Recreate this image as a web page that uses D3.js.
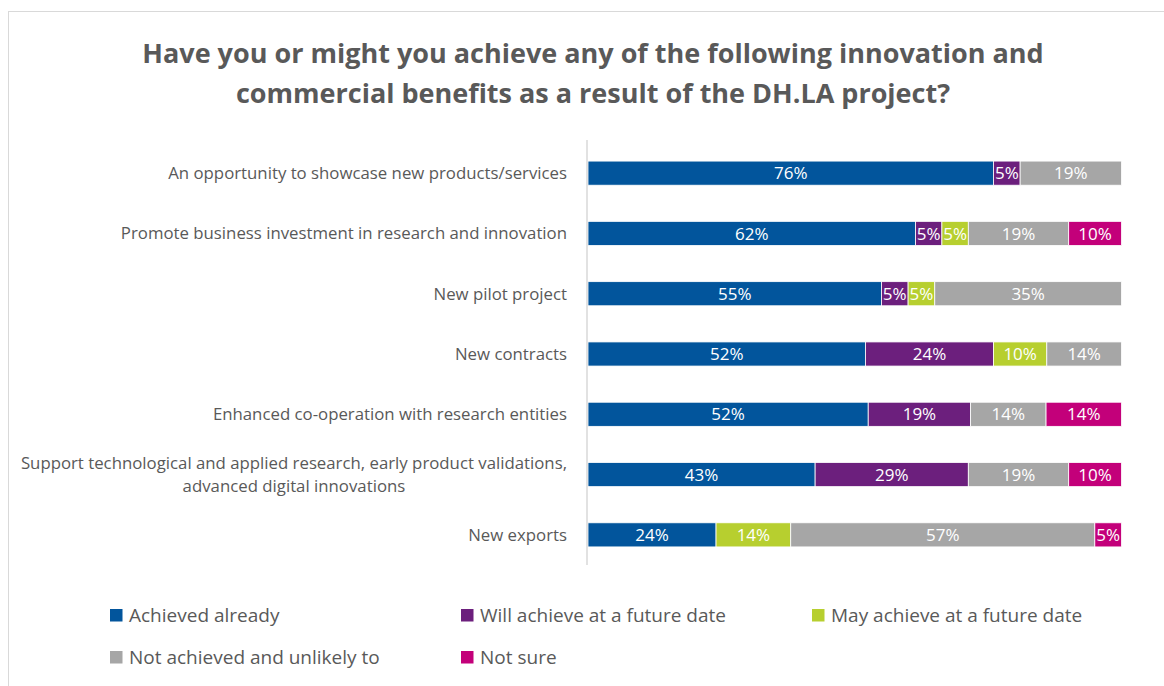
<!DOCTYPE html>
<html>
<head>
<meta charset="utf-8">
<script src="https://cdn.jsdelivr.net/npm/d3@7"></script>
<style>
  html, body { margin: 0; padding: 0; background: #fff; }
  svg { display: block; font-family: "Open Sans", "Noto Sans", sans-serif; }
</style>
</head>
<body>
<svg id="chart" width="1164" height="686"></svg>
<script>
// Survey answers, one row per benefit (percent of respondents)
const categories = [
  "An opportunity to showcase new products/services",
  "Promote business investment in research and innovation",
  "New pilot project",
  "New contracts",
  "Enhanced co-operation with research entities",
  "Support technological and applied research, early product validations,|advanced digital innovations",
  "New exports"
];
const seriesNames = [
  "Achieved already",
  "Will achieve at a future date",
  "May achieve at a future date",
  "Not achieved and unlikely to",
  "Not sure"
];
const achievedAlready   = [76, 62, 55, 52, 52, 43, 24];
const willAchieve       = [5, 5, 5, 24, 19, 29, 0];
const mayAchieve        = [0, 5, 5, 10, 0, 0, 14];
const notAchieved       = [19, 19, 35, 14, 14, 19, 57];
const notSure           = [0, 10, 0, 0, 14, 10, 5];
const seriesColors = ["#02559c", "#6c1f7d", "#b7cf2f", "#a6a6a6", "#c3007a"];
const titleLines = [
  "Have you or might you achieve any of the following innovation and",
  "commercial benefits as a result of the DH.LA project?"
];

const seriesValues = [achievedAlready, willAchieve, mayAchieve, notAchieved, notSure];
const rows = categories.map((c, i) => {
  const r = { category: c };
  seriesNames.forEach((s, j) => { r[s] = seriesValues[j][i]; });
  return r;
});

const svg = d3.select("#chart");
const textColor = "#595959";

// outer frame
svg.append("rect")
  .attr("x", 8.5).attr("y", 11.5)
  .attr("width", 1170).attr("height", 700)
  .attr("fill", "none").attr("stroke", "#d9d9d9").attr("stroke-width", 1);

// title
svg.append("g").selectAll("text")
  .data(titleLines)
  .join("text")
  .attr("x", 593)
  .attr("y", (d, i) => 63 + i * 40)
  .attr("text-anchor", "middle")
  .attr("font-size", 27)
  .attr("font-weight", "bold")
  .attr("fill", textColor)
  .text(d => d);

// scales
const x = d3.scaleLinear().domain([0, 1]).range([588, 1121.5]);
const y = d3.scaleBand()
  .domain(categories)
  .range([143, 565])
  .paddingInner(0.6)
  .paddingOuter(0.3);

// 100% stacked layout
const stack = d3.stack().keys(seriesNames).offset(d3.stackOffsetExpand);
const stacked = stack(rows);

const layers = svg.append("g").selectAll("g")
  .data(stacked)
  .join("g")
  .attr("fill", (d, i) => seriesColors[i]);

layers.selectAll("rect")
  .data(d => d.filter(p => p.data[d.key] > 0).map(p => ({ p, key: d.key })))
  .join("rect")
  .attr("x", d => x(d.p[0]))
  .attr("y", d => y(d.p.data.category))
  .attr("width", d => x(d.p[1]) - x(d.p[0]))
  .attr("height", y.bandwidth())
  .attr("stroke", "#ffffff")
  .attr("stroke-width", 0.8);

// segment value labels
layers.selectAll("text")
  .data(d => d.filter(p => p.data[d.key] > 0).map(p => ({ p, key: d.key })))
  .join("text")
  .attr("x", d => (x(d.p[0]) + x(d.p[1])) / 2)
  .attr("y", d => y(d.p.data.category) + y.bandwidth() / 2)
  .attr("dy", "0.36em")
  .attr("text-anchor", "middle")
  .attr("font-size", 17)
  .attr("fill", "#ffffff")
  .text(d => d.p.data[d.key] + "%");

// category axis line
svg.append("line")
  .attr("x1", 587).attr("x2", 587)
  .attr("y1", 140).attr("y2", 565)
  .attr("stroke", "#d9d9d9").attr("stroke-width", 1.5);

// category labels: right-aligned block, wrapped lines centred within it
const labelRight = 567;
const labels = svg.append("g").selectAll("text")
  .data(categories)
  .join("text")
  .attr("font-size", 16.8)
  .attr("fill", textColor);

labels.each(function (c) {
  const t = d3.select(this);
  const lines = c.split("|");
  const cy = y(c) + y.bandwidth() / 2;
  const spans = lines.map((ln, i) =>
    t.append("tspan")
      .attr("y", cy + (i - (lines.length - 1) / 2) * 23)
      .attr("dy", "0.36em")
      .text(ln));
  const widths = spans.map(s => s.node().getComputedTextLength());
  const maxW = d3.max(widths);
  spans.forEach(s => s.attr("text-anchor", "middle").attr("x", labelRight - maxW / 2));
});

// legend
const legendPos = [
  [110, 615], [461, 615], [812, 615],
  [110, 657], [461, 657]
];
const legend = svg.append("g").selectAll("g")
  .data(seriesNames)
  .join("g")
  .attr("transform", (d, i) => `translate(${legendPos[i][0]},${legendPos[i][1]})`);
legend.append("rect")
  .attr("x", 0).attr("y", -6)
  .attr("width", 12.5).attr("height", 12.5)
  .attr("fill", (d, i) => seriesColors[i]);
legend.append("text")
  .attr("x", 19)
  .attr("dy", "0.36em")
  .attr("font-size", 19)
  .attr("fill", textColor)
  .text(d => d);
</script>
</body>
</html>
